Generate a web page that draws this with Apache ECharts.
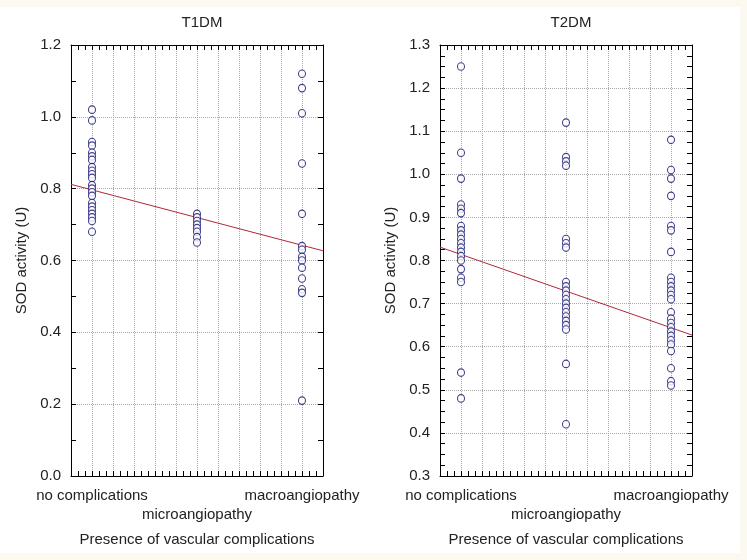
<!DOCTYPE html>
<html><head><meta charset="utf-8">
<script src="https://cdn.jsdelivr.net/npm/echarts@6/dist/echarts.min.js"></script>
<style>html,body{margin:0;padding:0;background:#fcfaf0;}#c{width:747px;height:560px;}</style>
</head><body><div id="c"></div>
<script>
const categories = ['no complications', 'microangiopathy', 'macroangiopathy'];
const panelTitles = ['T1DM', 'T2DM'];
const yAxisTitle = 'SOD activity (U)';
const xAxisTitle = 'Presence of vascular complications';

// T1DM values per group
const t1None = [1.02, 0.99, 0.93, 0.92, 0.90, 0.89, 0.88, 0.86, 0.85, 0.84, 0.83, 0.81, 0.80, 0.79, 0.78, 0.76, 0.75, 0.74, 0.73, 0.72, 0.71, 0.68];
const t1Micro = [0.73, 0.72, 0.71, 0.70, 0.69, 0.68, 0.665, 0.65];
const t1Macro = [1.12, 1.08, 1.01, 0.87, 0.73, 0.64, 0.63, 0.61, 0.60, 0.58, 0.55, 0.52, 0.51, 0.21];
// T2DM values per group
const t2None = [1.25, 1.05, 0.99, 0.93, 0.92, 0.91, 0.88, 0.87, 0.86, 0.85, 0.84, 0.83, 0.82, 0.81, 0.80, 0.78, 0.76, 0.75, 0.54, 0.48];
const t2Micro = [1.12, 1.04, 1.03, 1.02, 0.85, 0.84, 0.83, 0.75, 0.74, 0.73, 0.72, 0.71, 0.70, 0.69, 0.68, 0.67, 0.66, 0.65, 0.64, 0.56, 0.42];
const t2Macro = [1.08, 1.01, 0.99, 0.95, 0.88, 0.87, 0.82, 0.76, 0.75, 0.74, 0.73, 0.72, 0.71, 0.68, 0.665, 0.655, 0.645, 0.635, 0.625, 0.615, 0.605, 0.59, 0.55, 0.52, 0.51];
// fitted line endpoints [x, y]
const t1Fit = [[0.8, 0.812], [3.2, 0.627]];
const t2Fit = [[0.8, 0.831], [3.2, 0.627]];

function pts(groups) {
  const out = [];
  groups.forEach((g, i) => g.forEach(v => out.push([i + 1, v])));
  return out;
}

const FONT = 'Liberation Sans, Arial, sans-serif';
const TXT = '#222';
const FS = 15;

function xAxes(gi) {
  const base = {
    type: 'value', gridIndex: gi, min: 0.8, max: 3.2, interval: 0.2,
    axisLine: { show: true, onZero: false, lineStyle: { color: '#000', width: 1 } },
    axisTick: { show: true, inside: true, length: 5, lineStyle: { color: '#000' } },
    minorTick: { show: true, splitNumber: 3, length: 5, lineStyle: { color: '#000' } },
  };
  return [
    Object.assign({}, base, {
      position: 'bottom',
      splitLine: { show: true, lineStyle: { type: 'dotted', color: '#aaa' } },
      axisLabel: {
        show: true, margin: 10, fontSize: FS, fontFamily: FONT, color: TXT, lineHeight: 19,
        formatter: function (v) {
          const i = Math.round(v);
          if (Math.abs(v - i) < 1e-6 && i >= 1 && i <= 3) return i === 2 ? '\n' + categories[1] : categories[i - 1];
          return '';
        }
      },
      name: xAxisTitle, nameLocation: 'middle', nameGap: 56,
      nameTextStyle: { fontSize: FS, fontFamily: FONT, color: TXT }
    }),
    Object.assign({}, base, { position: 'top', axisLabel: { show: false }, splitLine: { show: false } })
  ];
}

function yAxes(gi, min, max, interval, minorSplit) {
  const base = {
    type: 'value', gridIndex: gi, min: min, max: max, interval: interval,
    axisLine: { show: true, onZero: false, lineStyle: { color: '#000', width: 1 } },
    axisTick: { show: true, inside: true, length: 5, lineStyle: { color: '#000' } },
    minorTick: { show: true, splitNumber: minorSplit, length: 5, lineStyle: { color: '#000' } },
  };
  return [
    Object.assign({}, base, {
      position: 'left',
      splitLine: { show: true, lineStyle: { type: 'dotted', color: '#aaa' } },
      axisLabel: { show: true, margin: 10, fontSize: FS, fontFamily: FONT, color: TXT, formatter: v => v.toFixed(1) },
      name: yAxisTitle, nameLocation: 'middle', nameGap: 42,
      nameTextStyle: { fontSize: FS, fontFamily: FONT, color: TXT }
    }),
    Object.assign({}, base, { position: 'right', axisLabel: { show: false }, splitLine: { show: false } })
  ];
}

const scatterStyle = {
  type: 'scatter', symbol: 'circle', symbolSize: [7, 7.5],
  itemStyle: { color: '#ffffff', borderColor: '#10106e', borderWidth: 1.1 },
  emphasis: { disabled: true }
};
const lineStyle = {
  type: 'line', symbol: 'none', lineStyle: { color: '#b02838', width: 1 }, silent: true
};

const option = {
  animation: false,
  backgroundColor: '#fcfaf0',
  graphic: [{ type: 'rect', shape: { x: 0, y: 7, width: 740, height: 546 }, style: { fill: '#ffffff' }, z: -10 }],
  title: [
    { text: panelTitles[0], left: 197, top: 10, textAlign: 'center', textStyle: { fontSize: FS, fontWeight: 'normal', fontFamily: FONT, color: TXT } },
    { text: panelTitles[1], left: 566, top: 10, textAlign: 'center', textStyle: { fontSize: FS, fontWeight: 'normal', fontFamily: FONT, color: TXT } }
  ],
  grid: [
    { left: 71, right: 424, top: 45, bottom: 84 },
    { left: 440, right: 55, top: 45, bottom: 84 }
  ],
  xAxis: [].concat(xAxes(0), xAxes(1)),
  yAxis: [].concat(yAxes(0, 0, 1.2, 0.2, 2), yAxes(1, 0.3, 1.3, 0.1, 4)),
  series: [
    Object.assign({}, lineStyle, { xAxisIndex: 0, yAxisIndex: 0, data: t1Fit, z: 1 }),
    Object.assign({}, scatterStyle, { xAxisIndex: 0, yAxisIndex: 0, data: pts([t1None, t1Micro, t1Macro]), z: 2 }),
    Object.assign({}, lineStyle, { xAxisIndex: 2, yAxisIndex: 2, data: t2Fit, z: 1 }),
    Object.assign({}, scatterStyle, { xAxisIndex: 2, yAxisIndex: 2, data: pts([t2None, t2Micro, t2Macro]), z: 2 })
  ]
};
const chart = echarts.init(document.getElementById('c'));
chart.setOption(option);
</script></body></html>
